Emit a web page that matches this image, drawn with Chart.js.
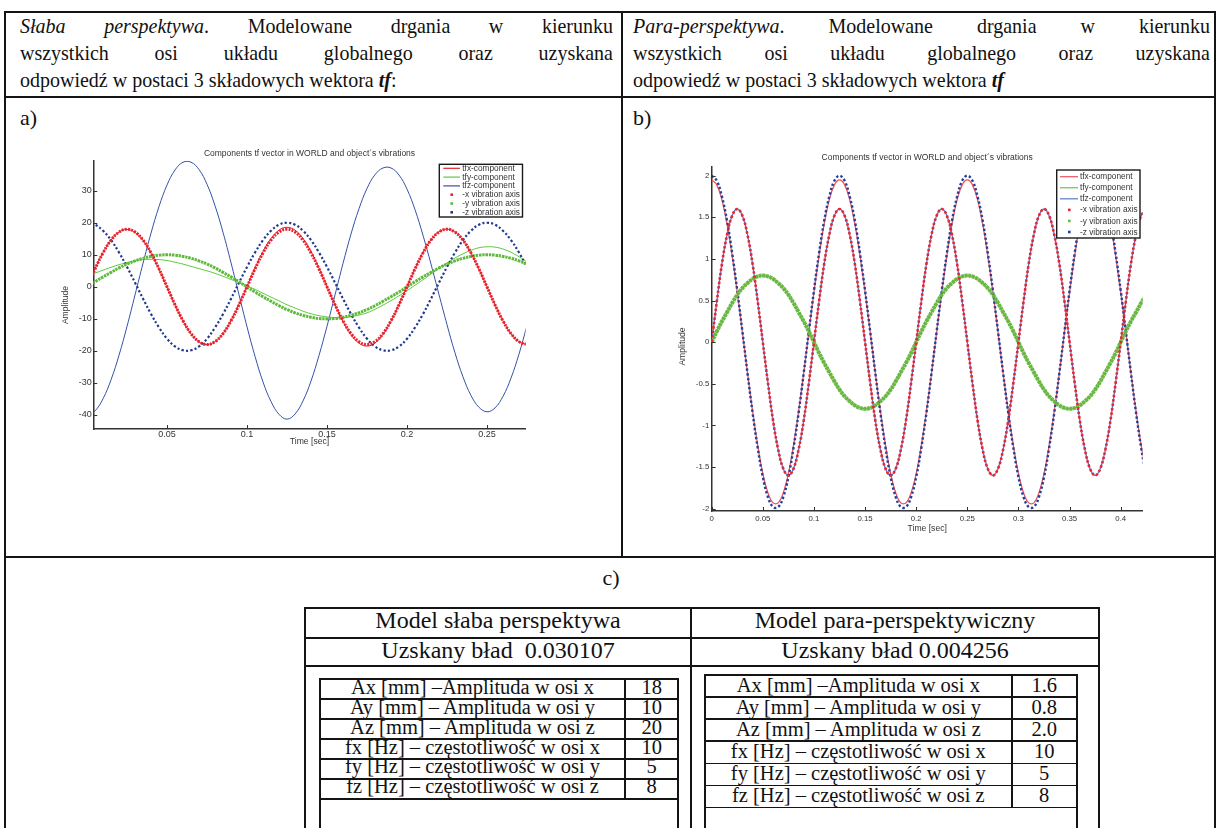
<!DOCTYPE html>
<html><head><meta charset="utf-8"><title>tf vector components</title>
<script src="https://cdn.jsdelivr.net/npm/chart.js@4.4.1/dist/chart.umd.min.js"></script>
<style>
html,body{margin:0;padding:0;background:#fff;}
body{width:1221px;height:828px;overflow:hidden;position:relative;}
.ln{position:absolute;background:#141414;}
.t{position:absolute;font-family:"Liberation Serif","DejaVu Serif","Times New Roman",serif;color:#111;}
.j{text-align:justify;text-align-last:justify;}
.c{text-align:center;white-space:nowrap;}
.nw{white-space:nowrap;}
.sq{transform:scaleX(0.93);transform-origin:0 0;font-size:21.5px;line-height:27px;}
canvas{position:absolute;}
</style></head><body>
<div class="t j sq" style="left:20px;top:12.5px;width:637.6px"><i>Słaba perspektywa</i>. Modelowane drgania w kierunku</div>
<div class="t j sq" style="left:20px;top:39.5px;width:637.6px">wszystkich osi układu globalnego oraz uzyskana</div>
<div class="t nw sq" style="left:20px;top:66.5px">odpowiedź w postaci 3 składowych wektora <b><i>tf</i></b>:</div>
<div class="t j sq" style="left:633px;top:12.5px;width:620.4px"><i>Para-perspektywa</i>. Modelowane drgania w kierunku</div>
<div class="t j sq" style="left:633px;top:39.5px;width:620.4px">wszystkich osi układu globalnego oraz uzyskana</div>
<div class="t nw sq" style="left:633px;top:66.5px">odpowiedź w postaci 3 składowych wektora <b><i>tf</i></b></div>
<div class="t nw" style="left:20px;top:104px;font-size:22px;line-height:27px">a)</div>
<div class="t nw" style="left:633px;top:104px;font-size:22px;line-height:27px">b)</div>
<div class="t c" style="left:561px;top:564px;width:100px;font-size:22px;line-height:27px">c)</div>
<div class="t c" style="left:305px;top:605.3px;width:386px;font-size:24px;line-height:30px">Model słaba perspektywa</div>
<div class="t c" style="left:691px;top:605.3px;width:408px;font-size:24px;line-height:30px">Model para-perspektywiczny</div>
<div class="t c" style="left:305px;top:636.5px;width:386px;font-size:24px;line-height:27.7px">Uzskany bład&nbsp; 0.030107</div>
<div class="t c" style="left:691px;top:636.5px;width:408px;font-size:24px;line-height:27.7px">Uzskany bład 0.004256</div>
<div id="cells"></div>
<canvas id="cA" width="520" height="307" style="left:40px;top:140px"></canvas>
<canvas id="cB" width="500" height="400" style="left:660px;top:140px"></canvas>
<script>
// ---------- chart a) : weak perspective ----------
const tA = [0,0.005,0.01,0.015,0.02,0.025,0.03,0.035,0.04,0.045,0.05,0.055,0.06,0.065,0.07,0.075,0.08,0.085,0.09,0.095,0.1,0.105,0.11,0.115,0.12,0.125,0.13,0.135,0.14,0.145,0.15,0.155,0.16,0.165,0.17,0.175,0.18,0.185,0.19,0.195,0.2,0.205,0.21,0.215,0.22,0.225,0.23,0.235,0.24,0.245,0.25,0.255,0.26,0.265,0.27,0.275];
const tfxA = [0,5.7,10.7,14.6,17.1,17.9,17.0,14.5,10.5,5.5,-0.1,-5.7,-10.7,-14.7,-17.2,-18.0,-17.1,-14.6,-10.5,-5.4,0.2,5.9,11.0,15.1,17.7,18.6,17.7,15.1,11.0,5.8,0.1,-5.6,-10.8,-14.9,-17.6,-18.5,-17.5,-14.8,-10.7,-5.5,0.1,5.7,10.7,14.7,17.2,18.0,17.1,14.5,10.5,5.5,0,-5.6,-10.6,-14.6,-17.1,-18.0];
const tfyA = [3.3,4.3,5.2,6.1,6.9,7.6,8.1,8.5,8.6,8.5,8.2,7.7,7.1,6.4,5.7,5.0,4.2,3.3,2.3,1.3,0.3,-0.8,-2.0,-3.2,-4.4,-5.6,-6.6,-7.6,-8.4,-9.0,-9.4,-9.6,-9.6,-9.3,-8.8,-8.1,-7.0,-5.7,-4.3,-2.8,-1.2,0.5,2.2,4.0,5.8,7.4,9.0,10.3,11.4,12.2,12.5,12.4,11.8,10.8,9.4,7.8];
const tfzA = [-40.0,-38.7,-34.9,-29.0,-21.3,-12.3,-2.5,7.4,16.8,25.1,31.8,36.5,38.9,38.9,36.6,32.0,25.3,17.0,7.5,-2.5,-12.5,-21.7,-29.7,-35.8,-39.8,-41.3,-39.7,-35.6,-29.4,-21.4,-12.3,-2.5,7.3,16.5,24.4,30.7,35.0,37.1,37.1,34.9,30.5,24.1,16.1,7.1,-2.4,-11.8,-20.6,-28.1,-33.9,-37.6,-39.0,-37.8,-34.2,-28.5,-21.0,-12.1];
const xVibA = [0,5.6,10.6,14.6,17.1,18,17.1,14.6,10.6,5.6,0,-5.6,-10.6,-14.6,-17.1,-18,-17.1,-14.6,-10.6,-5.6,0,5.6,10.6,14.6,17.1,18,17.1,14.6,10.6,5.6,0,-5.6,-10.6,-14.6,-17.1,-18,-17.1,-14.6,-10.6,-5.6,0,5.6,10.6,14.6,17.1,18,17.1,14.6,10.6,5.6,0,-5.6,-10.6,-14.6,-17.1,-18];
const yVibA = [0,1.6,3.1,4.5,5.9,7.1,8.1,8.9,9.5,9.9,10,9.9,9.5,8.9,8.1,7.1,5.9,4.5,3.1,1.6,0,-1.6,-3.1,-4.5,-5.9,-7.1,-8.1,-8.9,-9.5,-9.9,-10,-9.9,-9.5,-8.9,-8.1,-7.1,-5.9,-4.5,-3.1,-1.6,0,1.6,3.1,4.5,5.9,7.1,8.1,8.9,9.5,9.9,10,9.9,9.5,8.9,8.1,7.1];
const zVibA = [20,19.4,17.5,14.6,10.7,6.2,1.3,-3.7,-8.5,-12.7,-16.2,-18.6,-19.8,-19.8,-18.6,-16.2,-12.7,-8.5,-3.7,1.3,6.2,10.7,14.6,17.5,19.4,20,19.4,17.5,14.6,10.7,6.2,1.3,-3.7,-8.5,-12.7,-16.2,-18.6,-19.8,-19.8,-18.6,-16.2,-12.7,-8.5,-3.7,1.3,6.2,10.7,14.6,17.5,19.4,20,19.4,17.5,14.6,10.7,6.2];
const xTicksA = {min:0.0039, max:0.2742, step:0.05};
const yTicksA = {min:-44.375, max:39.375, step:10};

// ---------- chart b) : para-perspective ----------
const tB = [0,0.005,0.01,0.015,0.02,0.025,0.03,0.035,0.04,0.045,0.05,0.055,0.06,0.065,0.07,0.075,0.08,0.085,0.09,0.095,0.1,0.105,0.11,0.115,0.12,0.125,0.13,0.135,0.14,0.145,0.15,0.155,0.16,0.165,0.17,0.175,0.18,0.185,0.19,0.195,0.2,0.205,0.21,0.215,0.22,0.225,0.23,0.235,0.24,0.245,0.25,0.255,0.26,0.265,0.27,0.275,0.28,0.285,0.29,0.295,0.3,0.305,0.31,0.315,0.32,0.325,0.33,0.335,0.34,0.345,0.35,0.355,0.36,0.365,0.37,0.375,0.38,0.385,0.39,0.395,0.4,0.405,0.41,0.415,0.42,0.425];
const tfxB = [1.95,1.89,1.71,1.42,1.04,0.6,0.12,-0.37,-0.83,-1.24,-1.58,-1.81,-1.93,-1.93,-1.81,-1.58,-1.24,-0.83,-0.37,0.12,0.6,1.04,1.42,1.71,1.89,1.95,1.89,1.71,1.42,1.04,0.6,0.12,-0.37,-0.83,-1.24,-1.58,-1.81,-1.93,-1.93,-1.81,-1.58,-1.24,-0.83,-0.37,0.12,0.6,1.04,1.42,1.71,1.89,1.95,1.89,1.71,1.42,1.04,0.6,0.12,-0.37,-0.83,-1.24,-1.58,-1.81,-1.93,-1.93,-1.81,-1.58,-1.24,-0.83,-0.37,0.12,0.6,1.04,1.42,1.71,1.89,1.95,1.89,1.71,1.42,1.04,0.6,0.12,-0.37,-0.83,-1.24,-1.58];
const tfyB = [0,0.13,0.25,0.36,0.47,0.57,0.65,0.71,0.76,0.79,0.8,0.79,0.76,0.71,0.65,0.57,0.47,0.36,0.25,0.13,0,-0.13,-0.25,-0.36,-0.47,-0.57,-0.65,-0.71,-0.76,-0.79,-0.8,-0.79,-0.76,-0.71,-0.65,-0.57,-0.47,-0.36,-0.25,-0.13,0,0.13,0.25,0.36,0.47,0.57,0.65,0.71,0.76,0.79,0.8,0.79,0.76,0.71,0.65,0.57,0.47,0.36,0.25,0.13,0,-0.13,-0.25,-0.36,-0.47,-0.57,-0.65,-0.71,-0.76,-0.79,-0.8,-0.79,-0.76,-0.71,-0.65,-0.57,-0.47,-0.36,-0.25,-0.13,0,0.13,0.25,0.36,0.47,0.57];
const tfzB = [0,0.49,0.94,1.29,1.52,1.6,1.52,1.29,0.94,0.49,0,-0.49,-0.94,-1.29,-1.52,-1.6,-1.52,-1.29,-0.94,-0.49,0,0.49,0.94,1.29,1.52,1.6,1.52,1.29,0.94,0.49,0,-0.49,-0.94,-1.29,-1.52,-1.6,-1.52,-1.29,-0.94,-0.49,0,0.49,0.94,1.29,1.52,1.6,1.52,1.29,0.94,0.49,0,-0.49,-0.94,-1.29,-1.52,-1.6,-1.52,-1.29,-0.94,-0.49,0,0.49,0.94,1.29,1.52,1.6,1.52,1.29,0.94,0.49,0,-0.49,-0.94,-1.29,-1.52,-1.6,-1.52,-1.29,-0.94,-0.49,0,0.49,0.94,1.29,1.52,1.6];
const xVibB = [0,0.49,0.94,1.29,1.52,1.6,1.52,1.29,0.94,0.49,0,-0.49,-0.94,-1.29,-1.52,-1.6,-1.52,-1.29,-0.94,-0.49,0,0.49,0.94,1.29,1.52,1.6,1.52,1.29,0.94,0.49,0,-0.49,-0.94,-1.29,-1.52,-1.6,-1.52,-1.29,-0.94,-0.49,0,0.49,0.94,1.29,1.52,1.6,1.52,1.29,0.94,0.49,0,-0.49,-0.94,-1.29,-1.52,-1.6,-1.52,-1.29,-0.94,-0.49,0,0.49,0.94,1.29,1.52,1.6,1.52,1.29,0.94,0.49,0,-0.49,-0.94,-1.29,-1.52,-1.6,-1.52,-1.29,-0.94,-0.49,0,0.49,0.94,1.29,1.52,1.6];
const yVibB = [0,0.13,0.25,0.36,0.47,0.57,0.65,0.71,0.76,0.79,0.8,0.79,0.76,0.71,0.65,0.57,0.47,0.36,0.25,0.13,0,-0.13,-0.25,-0.36,-0.47,-0.57,-0.65,-0.71,-0.76,-0.79,-0.8,-0.79,-0.76,-0.71,-0.65,-0.57,-0.47,-0.36,-0.25,-0.13,0,0.13,0.25,0.36,0.47,0.57,0.65,0.71,0.76,0.79,0.8,0.79,0.76,0.71,0.65,0.57,0.47,0.36,0.25,0.13,0,-0.13,-0.25,-0.36,-0.47,-0.57,-0.65,-0.71,-0.76,-0.79,-0.8,-0.79,-0.76,-0.71,-0.65,-0.57,-0.47,-0.36,-0.25,-0.13,0,0.13,0.25,0.36,0.47,0.57];
const zVibB = [2,1.94,1.75,1.46,1.07,0.62,0.13,-0.37,-0.85,-1.27,-1.62,-1.86,-1.98,-1.98,-1.86,-1.62,-1.27,-0.85,-0.37,0.13,0.62,1.07,1.46,1.75,1.94,2,1.94,1.75,1.46,1.07,0.62,0.13,-0.37,-0.85,-1.27,-1.62,-1.86,-1.98,-1.98,-1.86,-1.62,-1.27,-0.85,-0.37,0.13,0.62,1.07,1.46,1.75,1.94,2,1.94,1.75,1.46,1.07,0.62,0.13,-0.37,-0.85,-1.27,-1.62,-1.86,-1.98,-1.98,-1.86,-1.62,-1.27,-0.85,-0.37,0.13,0.62,1.07,1.46,1.75,1.94,2,1.94,1.75,1.46,1.07,0.62,0.13,-0.37,-0.85,-1.27,-1.62];
const xTicksB = {min:0, max:0.4215, step:0.05};
const yTicksB = {min:-2.028, max:2.108, step:0.5};

const seriesNames = ['tfx-component','tfy-component','tfz-component','-x vibration axis','-y vibration axis','-z vibration axis'];
const chartTitle = 'Components tf vector in WORLD and object\u00b4s vibrations';
const xTitle = 'Time [sec]';
const yTitle = 'Amplitude';

// ---------- table c) ----------
const paramLabels = ['Ax [mm] \u2013Amplituda w osi x','Ay [mm] \u2013 Amplituda w osi y','Az [mm] \u2013 Amplituda w osi z','fx [Hz] \u2013 cz\u0119stotliwo\u015b\u0107 w osi x','fy [Hz] \u2013 cz\u0119stotliwo\u015b\u0107 w osi y','fz [Hz] \u2013 cz\u0119stotliwo\u015b\u0107 w osi z'];
const weakValues = ['18','10','20','10','5','8'];
const paraValues = ['1.6','0.8','2.0','10','5','8'];

// ---------- layout lines ----------
const cells = document.getElementById('cells');
function hl(x1,x2,y,w){w=w||2;const d=document.createElement('div');d.className='ln';d.style.cssText=`left:${x1}px;top:${y-w/2}px;width:${x2-x1}px;height:${w}px`;cells.appendChild(d);}
function vl(x,y1,y2,w){w=w||2;const d=document.createElement('div');d.className='ln';d.style.cssText=`left:${x-w/2}px;top:${y1}px;width:${w}px;height:${y2-y1}px`;cells.appendChild(d);}
function cell(txt,x,w,top,h,size,shift){const d=document.createElement('div');d.className='t c';d.style.cssText=`left:${x}px;top:${top+shift}px;width:${w}px;height:${h}px;font-size:${size}px;line-height:${h}px`;d.textContent=txt;cells.appendChild(d);}
hl(4,1216,11.7); hl(4,1216,96.7); hl(4,1216,557);
vl(5,10.7,828); vl(1215,10.7,828); vl(622,10.7,557);
hl(304,1100.3,608.3); hl(304,1100.3,638.3); hl(304,1100.3,666);
vl(305,607.3,828); vl(691,607.3,828); vl(1099.3,607.3,828);
const rowsL=[679.3,699.2,719.1,739,758.9,778.8,798.7];
rowsL.forEach(y=>hl(319,679.3,y,1.8)); vl(320,678.4,828,1.8); vl(678.3,678.4,828,1.8); vl(625,678.4,799.6,1.8);
const rowsR=[675,697.1,719.2,741.3,763.4,785.5,807.6];
rowsR.forEach(y=>hl(704,1077.7,y,1.8)); vl(705,674.1,828,1.8); vl(1076.7,674.1,828,1.8); vl(1011.7,674.1,808.5,1.8);
paramLabels.forEach((lab,i)=>{
  cell(lab,320,305,rowsL[i],rowsL[i+1]-rowsL[i],20.5,-1.5);
  cell(weakValues[i],625,53.3,rowsL[i],rowsL[i+1]-rowsL[i],20.5,-1.5);
  cell(lab,705,306.7,rowsR[i],rowsR[i+1]-rowsR[i],20.5,-1.5);
  cell(paraValues[i],1011.7,65,rowsR[i],rowsR[i+1]-rowsR[i],20.5,-1.5);
});

// ---------- charts ----------
const SANS = '"Liberation Sans", Arial, Helvetica, sans-serif';
function pts(t,v){return t.map((x,i)=>({x:x,y:v[i]}));}
function fmt(v){return String(Math.round(v*1000)/1000);}
const annot = {
  id:'annot',
  afterDatasetsDraw(chart,args,o){
    const ctx=chart.ctx,a=chart.chartArea,xs=chart.scales.x,ys=chart.scales.y;
    ctx.save();
    ctx.setLineDash([]);
    ctx.strokeStyle='#333';ctx.lineWidth=1;ctx.beginPath();
    xs.ticks.forEach(tk=>{const p=Math.round(xs.getPixelForValue(tk.value))+0.5;ctx.moveTo(p,a.bottom);ctx.lineTo(p,a.bottom-4);});
    ys.ticks.forEach(tk=>{const p=Math.round(ys.getPixelForValue(tk.value))+0.5;ctx.moveTo(a.left,p);ctx.lineTo(a.left+4,p);});
    ctx.stroke();
    ctx.fillStyle='#333';ctx.textAlign='center';ctx.textBaseline='middle';
    ctx.font='8.5px '+SANS;
    ctx.fillText(o.title,(a.left+a.right)/2,a.top+o.titleDy);
    ctx.font='8.6px '+SANS;
    ctx.fillText(o.xTitle,(a.left+a.right)/2,a.bottom+o.xTitleDy);
    ctx.save();ctx.translate(a.left+o.yTitleDx,a.top+o.yTitleDy);ctx.rotate(-Math.PI/2);ctx.fillText(o.yTitle,0,0);ctx.restore();
    const L=o.legend,bx=a.right-L.right-L.w,by=a.top+L.top;
    ctx.fillStyle='#fff';ctx.fillRect(bx,by,L.w,L.h);
    ctx.strokeStyle='#1a1a1a';ctx.lineWidth=1.4;ctx.strokeRect(bx,by,L.w,L.h);
    ctx.font=L.size+'px '+SANS;ctx.textAlign='left';
    chart.data.datasets.forEach((d,i)=>{
      const cy=by+L.first+i*L.row;
      if(d.kind==='line'){ctx.strokeStyle=d.borderColor;ctx.lineWidth=1.2;ctx.beginPath();ctx.moveTo(bx+L.x1,cy);ctx.lineTo(bx+L.x2,cy);ctx.stroke();}
      else{ctx.fillStyle=d.borderColor;ctx.fillRect(bx+L.dot-1.3,cy-1.3,2.6,2.6);}
      ctx.fillStyle='#333';ctx.fillText(d.label,bx+L.tx,cy+0.3);
    });
    ctx.restore();
  }
};
function ds(label,t,v,color,width,dash,kind){
  return {label:label,data:pts(t,v),borderColor:color,backgroundColor:color,borderWidth:width,borderDash:dash,
    pointRadius:0,fill:false,tension:0.4,kind:kind,order:kind==='line'?2:1};
}
function makeChart(id,datasets,xt,yt,pad,xH,yW,tickSize,xPad,yPad,annotOpts){
  return new Chart(document.getElementById(id),{
    type:'line',
    data:{datasets:datasets},
    plugins:[annot],
    options:{
      responsive:false,animation:false,devicePixelRatio:1,
      layout:{padding:pad},
      elements:{line:{capBezierPoints:false},point:{radius:0}},
      plugins:{legend:{display:false},tooltip:{enabled:false},annot:annotOpts},
      scales:{
        x:{type:'linear',min:xt.min,max:xt.max,afterFit(s){s.height=xH;},
           grid:{display:false,drawTicks:false},border:{display:true,color:'#333',width:1.5},
           ticks:{stepSize:xt.step,includeBounds:false,autoSkip:false,maxRotation:0,padding:xPad,color:'#333',font:{size:tickSize,family:SANS},callback:fmt}},
        y:{type:'linear',min:yt.min,max:yt.max,afterFit(s){s.width=yW;},
           grid:{display:false,drawTicks:false},border:{display:true,color:'#333',width:1.5},
           ticks:{stepSize:yt.step,includeBounds:false,autoSkip:false,padding:yPad,color:'#333',font:{size:tickSize,family:SANS},callback:fmt}}
      }
    }
  });
}
makeChart('cA',[
  ds(seriesNames[0],tA,tfxA,'#e1232b',1,[],'line'),
  ds(seriesNames[1],tA,tfyA,'#5ec83c',1,[],'line'),
  ds(seriesNames[2],tA,tfzA,'#3652a8',1,[],'line'),
  ds(seriesNames[3],tA,xVibA,'#e8222c',3,[2,1.2],'dot'),
  ds(seriesNames[4],tA,yVibA,'#5fba3c',3,[2.5,0.8],'dot'),
  ds(seriesNames[5],tA,zVibA,'#1f3a8f',2.2,[2.2,2.2],'dot')
],xTicksA,yTicksA,{left:20,top:20.7,right:34.3,bottom:0},18,33.3,9,0,1.6,
{title:chartTitle,xTitle:xTitle,yTitle:yTitle,titleDy:-7.4,xTitleDy:12.7,yTitleDx:-27.8,yTitleDy:144.3,
 legend:{right:3.2,top:3.6,w:83.2,h:52.7,first:4,row:8.8,x1:4,x2:20.7,dot:12.4,tx:23,size:8.3}});
makeChart('cB',[
  ds(seriesNames[0],tB,tfxB,'#f0525c',1.3,[],'line'),
  ds(seriesNames[1],tB,tfyB,'#6cc24a',1.3,[],'line'),
  ds(seriesNames[2],tB,tfzB,'#5878c8',1.3,[],'line'),
  ds(seriesNames[3],tB,xVibB,'#e82530',2.6,[2.5,2],'dot'),
  ds(seriesNames[4],tB,yVibB,'#6ab843',4,[3,0.6],'dot'),
  ds(seriesNames[5],tB,zVibB,'#24409a',2.4,[2.4,2.2],'dot')
],xTicksB,yTicksB,{left:20,top:26.7,right:17.3,bottom:0},29,31.7,7.8,3.5,2.4,
{title:chartTitle,xTitle:xTitle,yTitle:yTitle,titleDy:-9,xTitleDy:17.3,yTitleDx:-28.7,yTitleDy:179.8,
 legend:{right:2.7,top:3.3,w:83.3,h:68,first:6.7,row:11.06,x1:3.3,x2:21.3,dot:12.6,tx:23.3,size:8.3}});
</script>
</body></html>
